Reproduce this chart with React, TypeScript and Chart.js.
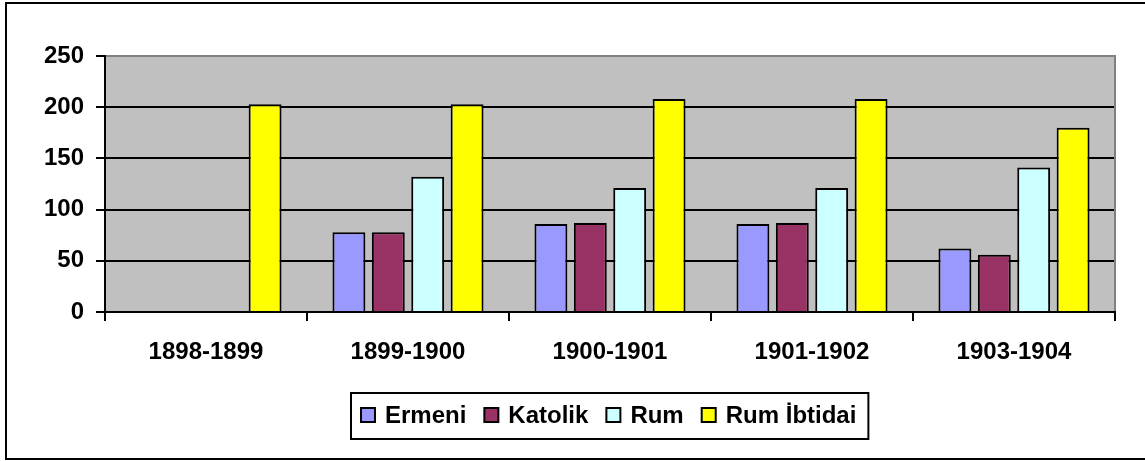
import React, { useEffect, useRef } from "react";
import { Chart, registerables } from "chart.js";

Chart.register(...registerables);

const categories = ["1898-1899", "1899-1900", "1900-1901", "1901-1902", "1903-1904"];
const ermeni = [null, 78, 86, 86, 62];
const katolik = [null, 78, 87, 87, 56];
const rum = [null, 132, 121, 121, 141];
const rumIbtidai = [203, 203, 208, 208, 180];
const seriesNames = ["Ermeni", "Katolik", "Rum", "Rum İbtidai"];
const seriesColors = ["#9999FF", "#993366", "#CCFFFF", "#FFFF00"];
const yMax = 250;
const yStep = 50;

const FONT = '"Liberation Sans", Arial, Helvetica, sans-serif';

const framePlugin = {
  id: "framePlugin",
  beforeDraw(chart: any) {
    const { ctx, chartArea: a } = chart;
    ctx.save();
    ctx.fillStyle = "#FFFFFF";
    ctx.fillRect(0, 0, chart.width, chart.height);
    ctx.fillStyle = "#C0C0C0";
    ctx.fillRect(a.left, a.top, a.right - a.left, a.bottom - a.top);
    ctx.restore();
  },
  afterDraw(chart: any) {
    const { ctx, chartArea: a } = chart;
    ctx.save();
    // right plot edge (gray)
    ctx.strokeStyle = "#808080";
    ctx.lineWidth = 2;
    ctx.beginPath();
    ctx.moveTo(a.right, a.top - 1);
    ctx.lineTo(a.right, a.bottom - 1);
    ctx.stroke();
    // outer frame
    ctx.strokeStyle = "#000000";
    ctx.lineWidth = 2;
    ctx.strokeRect(6, 3, 1150, 456);

    // legend
    ctx.font = `bold 24px ${FONT}`;
    const sw = 16;
    const gapSwText = 9;
    const gapItem = 17;
    const padL = 9;
    const padR = 12;
    const widths = chart.data.datasets.map((d: any) => ctx.measureText(d.label).width);
    let total = padL + padR;
    widths.forEach((w: number, i: number) => {
      total += sw + gapSwText + w + (i < widths.length - 1 ? gapItem : 0);
    });
    const cx = (a.left + a.right) / 2;
    const bx = Math.round(cx - total / 2);
    const by = 393;
    const bh = 46;
    ctx.strokeStyle = "#000";
    ctx.lineWidth = 2;
    ctx.strokeRect(bx, by, total, bh);
    const midY = by + bh / 2;
    let x = bx + padL;
    ctx.textBaseline = "middle";
    ctx.textAlign = "left";
    chart.data.datasets.forEach((d: any, i: number) => {
      ctx.fillStyle = d.backgroundColor;
      ctx.fillRect(x + 1, midY - sw / 2, sw - 2, sw - 2);
      ctx.strokeStyle = "#000";
      ctx.lineWidth = 2;
      ctx.strokeRect(x + 1, midY - sw / 2, sw - 2, sw - 2);
      x += sw + gapSwText;
      ctx.fillStyle = "#000";
      ctx.fillText(d.label, x, midY);
      x += widths[i] + gapItem;
    });
    ctx.restore();
  },
};

export default function App() {
  const ref = useRef<HTMLCanvasElement | null>(null);
  useEffect(() => {
    document.body.style.margin = "0";
    const seriesData = [ermeni, katolik, rum, rumIbtidai];
    const chart = new Chart(ref.current as HTMLCanvasElement, {
      type: "bar",
      data: {
        labels: categories,
        datasets: seriesData.map((vals, i) => ({
          label: seriesNames[i],
          data: vals,
          backgroundColor: seriesColors[i],
          borderColor: "#000000",
          borderWidth: 2,
          categoryPercentage: 0.78,
          barPercentage: 0.835,
        })),
      },
      options: {
        responsive: false,
        animation: false,
        devicePixelRatio: 1,
        layout: { padding: { top: 56, right: 30, left: 0, bottom: 0 } },
        plugins: {
          legend: { display: false },
          tooltip: { enabled: false },
          title: { display: false },
        },
        scales: {
          x: {
            grid: {
              offset: true,
              drawOnChartArea: false,
              drawTicks: true,
              tickLength: 9,
              color: "#000",
              lineWidth: 2,
            },
            border: { display: true, color: "#000", width: 2 },
            ticks: {
              color: "#000",
              font: { family: FONT, size: 24, weight: "bold" },
              padding: 17,
              maxRotation: 0,
            },
            afterFit(scale: any) {
              scale.height = 149;
            },
          },
          y: {
            min: 0,
            max: yMax,
            ticks: {
              stepSize: yStep,
              color: "#000",
              font: { family: FONT, size: 24, weight: "bold" },
              padding: 12,
            },
            grid: {
              color: (c: any) => (c.tick && c.tick.value === yMax ? "#808080" : "#000"),
              tickColor: "#000",
              lineWidth: 2,
              tickLength: 9,
            },
            border: { display: true, color: "#000", width: 2 },
            afterFit(scale: any) {
              scale.width = 105;
            },
          },
        },
      },
      plugins: [framePlugin],
    });
    return () => chart.destroy();
  }, []);
  return (
    <div style={{ position: "fixed", left: 0, top: 0, width: 1145, height: 461 }}>
      <canvas ref={ref} width={1145} height={461} />
    </div>
  );
}
